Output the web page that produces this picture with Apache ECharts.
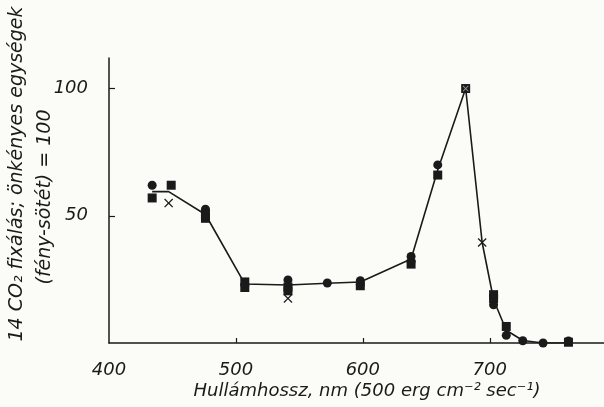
<!DOCTYPE html>
<html><head><meta charset="utf-8">
<script src="https://cdn.jsdelivr.net/npm/echarts@6/dist/echarts.min.js"></script>
<style>html,body{margin:0;padding:0;background:#fbfbf7;}#c{width:604px;height:407px;}</style>
</head><body><div id="c"></div>
<script>
// curve (nm, value)
const curveX = [434, 447, 476, 507, 541, 572, 598, 638, 659, 681, 694, 703, 713, 726, 742, 762];
const curveY = [59.5, 59.5, 50.5, 23.2, 22.8, 23.5, 24, 33, 68, 100, 39.5, 17, 5, 1, 0, 0];
// circle markers
const circX = [434, 476, 541, 572, 598, 598, 638, 638, 659, 703, 713, 726, 742, 762];
const circY = [62, 52.6, 24.8, 23.6, 24.5, 23, 34, 32, 70, 15, 3, 0.9, 0, 0.8];
// square markers
const sqX = [434, 449, 476, 476, 507, 507, 541, 541, 598, 638, 659, 681, 703, 703, 713, 762];
const sqY = [57, 62, 49, 50.5, 24, 21.8, 22, 20.5, 22.5, 31, 66, 100, 19, 17.5, 6.5, 0.3];
// cross markers
const crX = [447, 541, 694];
const crY = [55, 17.5, 39.5];
// peak cross (drawn light inside square)
const pkX = [681];
const pkY = [100];
const xTicks = [400, 500, 600, 700];
const yTicks = [50, 100];

const zip = (a, b) => a.map((v, i) => [v, b[i]]);
const crossPath = 'path://M0,1 L1,0 L5,4 L9,0 L10,1 L6,5 L10,9 L9,10 L5,6 L1,10 L0,9 L4,5 Z';
const ink = '#1a1a1a';
const font = '"DejaVu Sans", sans-serif';

const chart = echarts.init(document.getElementById('c'));
chart.setOption({
  animation: false,
  backgroundColor: '#fbfbf7',
  grid: {left: 109, right: 0, top: 58, bottom: 64},
  xAxis: {
    type: 'value', min: 400, max: 790, interval: 100,
    axisLine: {lineStyle: {color: ink, width: 1.5}},
    axisTick: {inside: true, length: 5, customValues: [500, 600, 700], lineStyle: {color: ink, width: 1.2}},
    splitLine: {show: false},
    axisLabel: {color: ink, fontSize: 18, fontStyle: 'italic', fontFamily: font, margin: 18,
      customValues: xTicks, formatter: v => String(v)}
  },
  yAxis: {
    type: 'value', min: 0, max: 112, interval: 50,
    axisLine: {show: true, lineStyle: {color: ink, width: 1.5}},
    axisTick: {inside: true, length: 6, customValues: yTicks, lineStyle: {color: ink, width: 1.2}},
    splitLine: {show: false},
    axisLabel: {color: ink, fontSize: 18, fontStyle: 'italic', fontFamily: font, margin: 21,
      customValues: yTicks, formatter: v => String(v)}
  },
  series: [
    {type: 'line', data: zip(curveX, curveY), symbol: 'none',
      lineStyle: {color: ink, width: 1.6}, z: 1},
    {type: 'scatter', data: zip(circX, circY), symbol: 'circle', symbolSize: 9,
      itemStyle: {color: ink, opacity: 1}, z: 3},
    {type: 'scatter', data: zip(sqX, sqY), symbol: 'rect', symbolSize: 9,
      itemStyle: {color: ink, opacity: 1}, z: 3},
    {type: 'scatter', data: zip(crX, crY), symbol: crossPath, symbolSize: 9,
      itemStyle: {color: ink, opacity: 1}, z: 3},
    {type: 'scatter', data: zip(pkX, pkY), symbol: crossPath, symbolSize: 6,
      itemStyle: {color: '#999', opacity: 1}, z: 4}
  ],
  graphic: [
    {type: 'text', x: 17, y: 174, rotation: Math.PI / 2,
      style: {text: '14 CO₂ fixálás; önkényes egységek', font: 'italic 19px ' + font,
        fill: ink, align: 'center', verticalAlign: 'middle'}},
    {type: 'text', x: 45, y: 197, rotation: Math.PI / 2,
      style: {text: '(fény-sötét) = 100', font: 'italic 19px ' + font,
        fill: ink, align: 'center', verticalAlign: 'middle'}},
    {type: 'text', x: 367, y: 391,
      style: {text: 'Hullámhossz, nm (500 erg cm⁻² sec⁻¹)', font: 'italic 18px ' + font,
        fill: ink, align: 'center', verticalAlign: 'middle'}}
  ]
});
</script></body></html>
